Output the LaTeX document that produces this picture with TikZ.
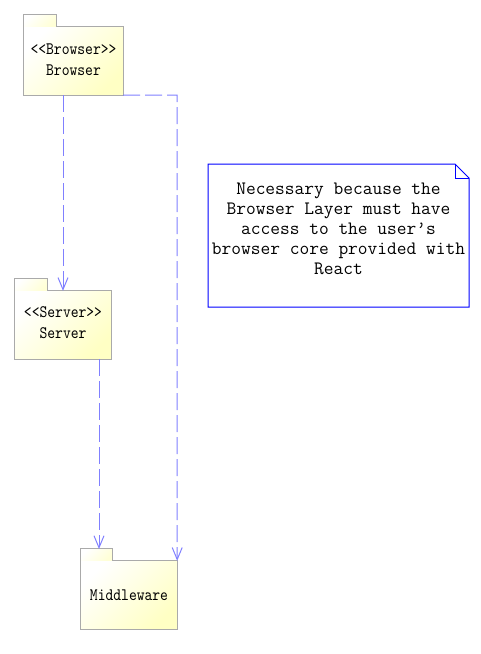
\documentclass[tikz,border=0pt]{standalone}
\usepackage{fontspec}
\newfontfamily\pkgfont[FakeStretch=0.85]{lmmono10-regular.otf}
\usetikzlibrary{arrows.meta}
\definecolor{pkgY}{RGB}{255,255,196}
\definecolor{pkgLine}{RGB}{170,170,170}
\definecolor{depBlue}{RGB}{128,128,255}
\tikzset{
  pkgbody/.style={top color=white, bottom color=pkgY, shading angle=45,
    minimum width=#1, minimum height=68pt, inner sep=0pt, font=\pkgfont\fontsize{17.5}{21}\selectfont, align=center},
  pkgtext/.style={font=\pkgfont\fontsize{17.5}{21}\selectfont, align=center, inner sep=0pt},
  pkgtab/.style={top color=white, bottom color=pkgY!70, shading angle=45},
  pkgoutline/.style={draw=pkgLine, line width=1pt},
  dep/.style={draw=depBlue, line width=1pt, dash pattern=on 17pt off 5pt,
    -{Straight Barb[length=12pt,width=10pt,line width=1pt]}},
  notebox/.style={draw=blue, line width=1pt},
  notetext/.style={font=\ttfamily\fontsize{18.9}{20}\selectfont, align=center, inner sep=0pt}
}
\begin{document}
\begin{tikzpicture}[x=1pt,y=-1pt]
\useasboundingbox (0,0) rectangle (481,654);
% Browser package
\node[pkgbody=99pt] (browser) at (73.5,61) {};
\shade[pkgtab] (browser.north west) rectangle ++(33,-12);
\draw[pkgoutline] (browser.north west) -- ++(0,-12) -- ++(33,0) -- ++(0,12) -- (browser.north east) -- (browser.south east) -- (browser.south west) -- cycle;
\node[pkgtext] (browsertxt) at (73.5,59.5) {<<Browser>>\\Browser};
% Server package
\node[pkgbody=96pt] (server) at (63,325) {};
\shade[pkgtab] (server.north west) rectangle ++(33,-12);
\draw[pkgoutline] (server.north west) -- ++(0,-12) -- ++(33,0) -- ++(0,12) -- (server.north east) -- (server.south east) -- (server.south west) -- cycle;
\node[pkgtext] (servertxt) at (63,323) {<<Server>>\\Server};
% Middleware package
\node[pkgbody=96pt] (middleware) at (129,595) {Middleware};
\shade[pkgtab] (middleware.north west) rectangle ++(32,-12);
\draw[pkgoutline] (middleware.north west) -- ++(0,-12) -- ++(32,0) -- ++(0,12) -- (middleware.north east) -- (middleware.south east) -- (middleware.south west) -- cycle;
% connectors
\coordinate (mwtab) at (99,549);
\draw[dep] (browser.south -| 63,0) -- (server.north -| 63,0);
\draw[dep] (browser.south east) -- (177,95) -- (middleware.north east);
\draw[dep] (server.south -| 99,0) -- (mwtab);
% note
\draw[notebox] (208,164) -- (455,164) -- (469,178) -- (469,307) -- (208,307) -- cycle;
\draw[notebox] (455,164) -- (455,178) -- (469,178);
\node[notetext] (note) at (338.5,229) {Necessary because the\\Browser Layer must have\\access to the user’s\\browser core provided with\\React};
\end{tikzpicture}
\end{document}
